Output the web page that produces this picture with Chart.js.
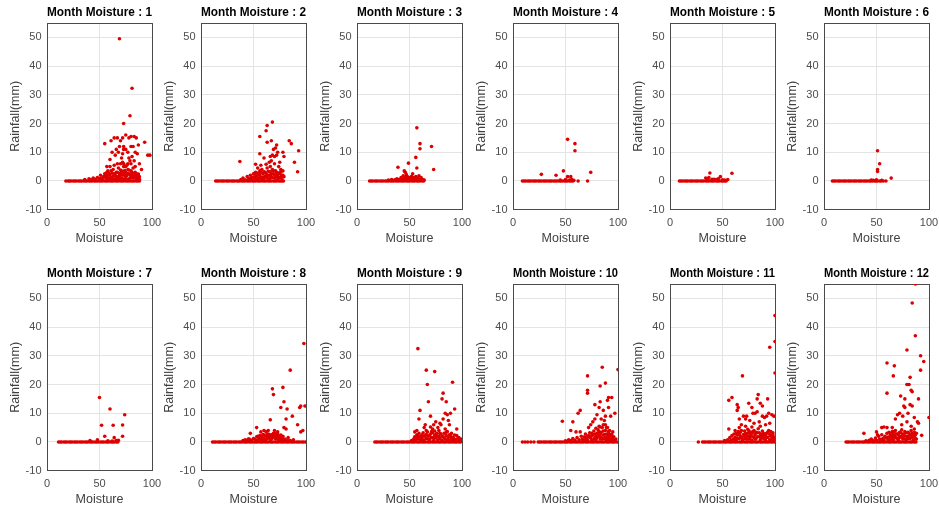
<!DOCTYPE html>
<html>
<head>
<meta charset="utf-8">
<script src="https://cdn.jsdelivr.net/npm/chart.js@4.4.1/dist/chart.umd.min.js"></script>
<style>
  html, body { margin: 0; background: #fff; }
  #wrap { position: relative; width: 939px; height: 508px; overflow: hidden; }
  #wrap canvas { position: absolute; }
</style>
</head>
<body>
<div id="wrap"></div>
<script>
// month numbers, one subplot each
const months = [1, 2, 3, 4, 5, 6, 7, 8, 9, 10, 11, 12];
const xTicks = [0, 50, 100];
const yTicks = [-10, 0, 10, 20, 30, 40, 50];

// moisture of days with no rain (rainfall = 0)
const dry1 = [18,20,21.5,23,25,26.5,28,30,31.5,33,35,36.5,38,40,41.5,43,45,46.5,48,50,51.5,53,55,56.5,58,60,61.5,63,65,66.5,68,70,71.5,73,75,76.5,78,80,81.5,83,85,86.5,88];
const dry2 = [14,15.5,17,19,20.5,22,24,25.5,27,29,30.5,32,34,35.5,37,39,40.5,42,44,45.5,47,49,50.5,52,54,55.5,57,59,60.5,62,64,65.5,67,69,70.5,72,74,75.5,77,78.5];
const dry3 = [12,13.5,15,17,18.5,20,22,23.5,25,27,28.5,30,32,33.5,35,37,38.5,40,42,43.5,45,47,48.5,50,52,53.5,55,57,58.5,60,62,63.5];
const dry4 = [9,10.5,12,14,15.5,17,19,20.5,22,24,25.5,27,29,30.5,32,34,35.5,37,39,40.5,42,44,45.5,47,49,50.5,52,54,55.5,57];
const dry5 = [9,10.5,12,14,15.5,17,19,20.5,22,24,25.5,27,29,30.5,32,34,35.5,37,39,40.5,42,44,45.5,47,49,50.5,52,53.5];
const dry6 = [8,9.5,11,13,14.5,16,18,19.5,21,23,24.5,26,28,29.5,31,33,34.5,36,38,39.5,41,43,44.5,46,48,49.5,51,53,54.5,56.5];
const dry7 = [11,12.5,14,16,17.5,19,21,22.5,24,26,27.5,29,31,32.5,34,36,37.5,39,41,42.5,44,46,47.5,49,51,52.5,54,56,57.5,59,61,62.5,64,66,67.5];
const dry8 = [11,12.5,14,16,17.5,19,21,22.5,24,26,27.5,29,31,32.5,34,36,37.5,39,41,42.5,44,46,47.5,49,51,52.5,54,56,57.5,59,61,62.5,64,66,67.5,69,71,72.5,74,76,77.5,79,81,82.5,84,86,87.5,89,91,92.5,94,96,97.5,99.5];
const dry9 = [17,18.5,20,22,23.5,25,27,28.5,30,32,33.5,35,37,38.5,40,42,43.5,45,47,48.5,50,52,53.5,55,57,58.5,60,62,63.5,65,67,68.5,70,72,73.5,75,77,78.5,80,82,83.5,85,87,88.5,90,92,93.5,95,97,98.5];
const dry10 = [9,11.5,14,17,20,24,25.5,27,29,30.5,32,34,35.5,37,39,40.5,42,44,45.5,47,49,50.5,52,54,55.5,57,59,60.5,62,64,65.5,67,69,70.5,72,74,75.5,77,79,80.5,82,84,85.5,87,89,90.5,92,94,95.5,97,99];
const dry11 = [27,31,32.5,34,36,37.5,39,41,42.5,44,46,47.5,49,51,52.5,54,56,57.5,59,61,62.5,64,66,67.5,69,71,72.5,74,76,77.5,79,81,82.5,84,86,87.5,89,91,92.5,94,96,97.5,99.5];
const dry12 = [21,22.5,24,26,27.5,29,31,32.5,34,36,37.5,39,41,42.5,44,46,47.5,49,51,52.5,54,56,57.5,59,61,62.5,64,66,67.5,69,71,72.5,74,76,77.5,79,81,82.5,84,86,87.5];

// [moisture, rainfall(mm)] of days with rain
const wet1 = [[36,0.5],[40,0.8],[42,0.4],[44,1],[46,0.6],[48,1.2],[50,0.8],[51,2],[52,1],[53,0.5],[54,1.5],[55,2.5],[56,1],[57,3],[58,1.8],[59,0.7],[60,2.2],[61,3.5],[62,1.2],[63,4],[64,2.5],[65,0.8],[66,3],[67,1.5],[68,4.5],[69,2.5],[70,1],[71,3.5],[72,2],[73,5],[74,0.8],[75,3],[76,1.8],[77,4],[78,2.5],[79,1],[80,3.5],[81,2],[82,4.5],[83,1.2],[84,3],[85,0.7],[86,2.2],[87,1],[88,1.5],[62,0.4],[66,0.5],[70,2.8],[74,2],[78,0.6],[82,1],[58,3.5],[60,5],[64,5.5],[67,6],[72,6.5],[76,5.5],[80,6],[84,5],
  [56,2],[58,0.6],[59,2.6],[61,1.2],[62,2.8],[63,1.8],[64,0.6],[65,2],[66,1.4],[67,3],[68,0.8],[69,1.6],[70,3.8],[71,2.2],[72,0.8],[73,2.8],[74,3.6],[75,1.6],[76,0.6],[77,2.6],[78,3.8],[79,2.2],[80,1.2],[81,3],[82,2.2],[83,2.6],[84,1.6],[85,2],[86,1],[87,2.4],[88,0.6],[60,1],[57,1.5],
  [69,49.5],[81,32.3],[79,22.7],[73,20],[80,15.5],[55,13],[61,14],[64,15],[67,15],[70,14],[72,15],[75,16],[78,15],[83,15.5],[85,15],[87,12.5],[93,13.5],[96,9],[98,9],[73,11],[75,11],[77,10],[78,8],[77,6],[75,5],[73,6],[72,9.5],[71,8],[82,12],[84,10],[79,7],[65,9],[68,10],[70,6],[62,10],[69,12],[80,12],[73,12],[81,8.5],[86,9.5],[83,7],[66,11],[60,7.5],[57,5],[88,6],[90,4],[85,2.5]];
const wet2 = [[38,0.5],[40,1],[42,0.4],[44,1.5],[46,0.8],[47,2],[48,1.2],[49,0.5],[50,2.5],[51,1],[52,3],[53,1.8],[54,0.6],[55,2.2],[56,3.5],[57,1.2],[58,4],[59,2.5],[60,0.8],[61,3],[62,1.5],[63,4.5],[64,2],[65,0.7],[66,3.2],[67,1.5],[68,4],[69,2.5],[70,1],[71,3.5],[72,2],[73,0.6],[74,2.8],[75,1.2],[76,3.2],[77,0.8],[78,2],[54,4.5],[57,5.5],[62,5.8],[66,5],[70,6],[52,5.8],
  [50,1.4],[51,2.6],[52,1.6],[53,0.5],[54,2.8],[55,1],[56,2],[57,3],[58,0.8],[59,1.4],[60,3.2],[61,1.6],[62,2.6],[63,1],[64,3.4],[65,2],[66,1],[67,2.6],[68,1.2],[69,3.6],[70,2.2],[71,1.4],[72,3],[73,2],[74,1.2],[75,2.6],[76,1.4],[77,2],[45,0.5],[47,0.8],
  [37,6.8],[56,15.5],[63,19.3],[68,20.5],[62,17.5],[63,13.5],[67,14],[72,12.5],[71,11.5],[69,11],[56,9.5],[60,8],[66,8.5],[68,9],[70,8.5],[72,9],[65,6.5],[74,5],[76,4],[78,10],[79,8.5],[84,14],[86,13],[89,6.5],[93,10.5],[92,3.2],[79,1.5],[78,3.5],[75,6.5],[73,10],[67,7]];
const wet3 = [[30,0.3],[33,0.5],[36,0.4],[38,0.8],[40,0.5],[42,1.2],[43,0.6],[44,1.8],[45,0.8],[46,1.2],[47,0.5],[48,1.5],[49,0.8],[50,1.2],[51,0.5],[52,1.6],[53,0.8],[54,1.2],[55,0.5],[56,1.5],[57,0.7],[58,1],[59,1.8],[60,0.5],[61,1.2],[62,0.6],[63,0.4],[64,0.3],[47,2.2],[53,2.5],
  [57,18.5],[60,13],[60,11.2],[71,12],[73,4],[56,8.2],[49,6.2],[39,4.8],[45,3.5],[46,3],[57,4.5]];
const wet4 = [[52,14.5],[59,13],[59,10.5],[48,3.5],[52,1.5],[55,1.5],[27,2.3],[41,2],[74,3],[71,0],[62,0],[58,0.2],[56,0.5],[54,0.3],[45,0.3],[50,0.5]];
const wet5 = [[38,2.8],[48,1.5],[59,2.7],[34,1],[35,0.8],[36,0.5],[40,0.6],[42,0.6],[44,0.5],[46,0.8],[50,0.4],[52,0.3],[55,0.5],[37,1.2]];
const wet6 = [[51,10.5],[53,6],[51,4],[51,3.3],[64,1],[59,0],[45,0.3],[47,0.2],[55,0.2],[50,0.4]];
const wet7 = [[50,15.5],[60,11.5],[74,9.5],[52,5.8],[63,5.8],[72,5.9],[55,2],[72,2],[64,1.5],[48,0.8],[41,0.5],[66,0.5],[58,0.4],[62,0.3],[68,0.6]];
const wet8 = [[40,0.5],[42,0.8],[44,0.4],[46,1],[48,0.6],[50,1.2],[52,0.8],[53,1.8],[54,0.6],[55,1.4],[56,2.2],[57,1],[58,1.8],[59,2.6],[60,1.2],[61,0.6],[62,2],[63,1.2],[64,2.8],[65,1.6],[66,0.8],[67,2.4],[68,1.4],[69,3],[70,2],[71,1],[72,2.6],[73,1.6],[74,0.8],[75,2],[76,1.2],[77,0.6],[78,1],[79,0.4],[81,0.6],[83,0.4],[85,0.5],
  [58,0.5],[60,2.4],[62,0.8],[63,2.6],[64,1.4],[65,2.6],[66,1.6],[67,1],[68,2.6],[69,1.8],[70,3],[71,2.2],[72,1.4],[73,2.8],[74,2],[75,1],[76,2.4],[77,1.6],[78,2],[80,1],[56,1],[54,2],
  [98,34.3],[85,25],[68,18.5],[69,16.5],[78,19],[79,14],[76,12],[82,11.5],[94,12],[95,12.5],[81,8],[87,9],[79,5],[81,4.5],[92,6],[95,3.5],[97,4],[66,7.7],[57,3.5],[60,4],[47,3],[53,5],[62,3.5],[70,4],[73,3.5],[64,4],[83,1.5],[45,1],[88,0.8],[99,12.5]];
const wet9 = [[52,0.5],[54,1],[55,1.8],[56,0.6],[57,2.5],[58,1.2],[59,3],[60,0.8],[61,2],[62,1.4],[63,3.2],[64,0.7],[65,2.2],[66,1.2],[67,3.5],[68,2],[69,0.8],[70,2.8],[71,1.5],[72,3.2],[73,0.6],[74,2.4],[75,1.4],[76,3],[77,0.8],[78,2],[79,1.2],[80,2.8],[81,0.6],[82,1.8],[83,3],[84,1],[85,2.2],[86,0.7],[87,1.6],[88,2.5],[89,0.8],[90,1.5],[91,0.5],[92,1.2],[93,2.4],[94,0.6],[95,1],[96,0.4],[97,1.5],[98,0.6],[66,4],[72,4.5],[78,4],[84,4.5],[70,5.2],
  [56,1.6],[58,2.2],[60,1.8],[62,0.6],[64,2],[66,2.6],[68,1],[69,2.2],[71,3.6],[73,1.6],[75,2.4],[77,2],[79,3],[81,2],[83,1.4],[85,3.4],[87,0.6],[89,2.4],[91,1.6],[93,0.8],[95,2.2],[97,0.6],[74,3.8],[86,3.6],
  [58,32.5],[66,25],[74,24.5],[67,20],[91,20.8],[68,14],[82,17],[81,15],[85,14],[93,11.5],[84,10],[86,9.5],[82,8],[79,6.5],[70,9],[60,11],[59,8],[64,5],[65,6],[75,7],[77,5],[87,7.5],[88,6],[90,3],[95,4.5],[99,1],[55,3.5],[57,4],[62,2.5],[73,6],[80,6],[89,10]];
const wet10 = [[50,0.4],[53,0.8],[55,0.5],[57,1.2],[59,0.6],[61,1.5],[63,0.8],[65,2],[66,1],[67,0.5],[68,1.8],[69,2.8],[70,1.2],[71,0.6],[72,2.2],[73,3.2],[74,1.4],[75,0.7],[76,2.6],[77,3.8],[78,1.6],[79,0.8],[80,3],[81,4.2],[82,2],[83,1],[84,3.4],[85,5],[86,2.4],[87,1.2],[88,4],[89,2.8],[90,1.4],[91,3.6],[92,0.8],[93,2.2],[94,1.2],[95,0.6],[96,1.8],[97,0.5],[98,1],
  [69,1],[71,2],[73,1.6],[75,2.2],[77,1],[78,2.8],[79,2],[80,1.4],[81,2.4],[82,3.6],[83,2.6],[84,1.6],[85,1],[86,3.8],[87,2.6],[88,1.6],[89,0.6],[90,2.6],[91,1.8],[92,2.8],[93,1],[94,2.6],[95,1.6],[96,0.6],[83,5.2],[88,6],[90,5],[79,4.8],
  [85,26],[71,23],[100,25.2],[71,18],[71,17],[83,19.5],[88,20.5],[91,15.5],[94,15.5],[90,14.5],[83,14],[78,13],[82,12],[86,11],[91,12],[97,10],[64,11],[62,10],[57,7],[47,7.2],[55,4],[60,3.5],[64,3.5],[72,5],[75,3],[78,8],[80,9.5],[84,8],[86,6],[89,5],[92,4],[95,3.5],[74,6],[88,9],[93,9],[82,5.5],[76,7],[87,7.5]];
const wet11 = [[52,0.5],[55,0.8],[57,1.5],[58,0.5],[59,2.2],[60,1],[61,2.8],[62,1.6],[63,0.6],[64,2.4],[65,3.6],[66,1.2],[67,2],[68,4],[69,0.8],[70,2.6],[71,3.8],[72,1.4],[73,2.8],[74,4.4],[75,1],[76,2.2],[77,3.4],[78,0.6],[79,1.8],[80,4],[81,2.6],[82,1.2],[83,3.2],[84,4.6],[85,1.8],[86,0.8],[87,2.8],[88,3.8],[89,1.4],[90,2.4],[91,0.6],[92,3],[93,1.6],[94,4],[95,0.8],[96,2],[97,1],[98,3.2],[99,0.5],[100,1.6],[66,5],[72,5.5],[78,5.2],[86,5.5],
  [62,0.8],[64,1.2],[66,2.6],[67,3.4],[68,1.6],[70,1],[71,2],[72,3],[73,1],[74,2],[75,3.2],[76,1.2],[77,2],[78,3],[79,3.6],[80,1.6],[81,1],[82,3.4],[83,1.8],[85,3.2],[86,2.2],[87,1.2],[88,2],[89,3],[90,1.2],[91,2.4],[92,1.6],[93,3.4],[95,2.6],[96,3.6],[97,2.4],[98,1.6],[63,3],
  [100,44],[100,35],[95,33],[100,24],[69,23],[56,14.5],[59,15.5],[64,13],[64,11],[65,12],[75,13.5],[84,16.5],[83,15],[86,13.5],[93,15],[79,10],[81,10],[83,10.5],[88,9],[90,8.5],[92,9],[97,9.5],[98,2.5],[72,8],[73,9],[76,7.5],[70,9],[68,6],[56,4.5],[62,4],[75,4],[80,6.5],[85,7],[91,6],[95,6.5],[78,12],[66,8],[88,12.5],[94,10],[99,9]];
const wet12 = [[40,0.4],[43,0.6],[45,1],[47,0.5],[49,1.4],[50,0.6],[52,2],[53,1],[54,0.5],[55,2.5],[56,1.2],[57,0.6],[58,2],[59,1.4],[60,3],[61,0.8],[62,1.8],[63,2.8],[64,1.2],[65,3.6],[66,0.8],[67,2.2],[68,4],[69,1.4],[70,2.8],[71,0.6],[72,3.4],[73,1.8],[74,4.2],[75,1],[76,2.6],[77,3.6],[78,0.8],[79,2],[80,3.4],[81,1.2],[82,2.6],[83,4],[84,1.6],[85,0.6],[86,2.4],[87,1.2],[88,3],
  [60,1.6],[62,3.4],[63,0.8],[64,2.4],[65,1.6],[66,2.6],[67,3.6],[68,1.6],[69,2.8],[70,1.2],[71,2.4],[72,1.6],[73,3.2],[74,2],[75,2.8],[76,1.2],[77,2],[78,3.2],[79,1],[80,2],[81,3],[82,1.2],[83,2.2],[84,3],[85,1.8],[86,3.4],[87,2.4],[88,1],
  [87,55],[84,48.4],[87,37],[79,32],[92,30],[95,28],[60,27.5],[67,26.5],[66,23],[60,17],[82,22.5],[79,20],[81,20],[83,18],[84,17.5],[73,16],[77,15],[77,12],[82,13],[84,12.5],[90,15],[92,25],[100,8.5],[93,2.3],[89,7],[90,6.5],[70,9.5],[72,10],[68,8],[75,9],[79,7],[83,5.5],[86,4.5],[65,5],[60,5],[55,5],[57,5.2],[50,3.5],[51,2.5],[38,3],[80,10],[86,8.5],[74,6],[76,12.5]];

const dryDays = [dry1, dry2, dry3, dry4, dry5, dry6, dry7, dry8, dry9, dry10, dry11, dry12];
const wetDays = [wet1, wet2, wet3, wet4, wet5, wet6, wet7, wet8, wet9, wet10, wet11, wet12];

const FONT = '"Liberation Sans", Arial, Helvetica, sans-serif';
const RED = 'rgb(222,0,0)';
const GRID = '#e4e4e4';
const BOX = '#4a4a4a';
const TICK = '#4d4d4d';

// layout of the 2 x 6 grid (pixels)
const plotLefts = [47, 201, 357, 513, 670, 824];
const rowTops = [0, 261];
// PAD_R leaves room for the half-width of the "100" label plus tick padding
const AXIS_W = 47, PLOT_W = 105, PAD_R = 18, CANVAS_H = 247, XAXIS_H = 37.3;

const wrap = document.getElementById('wrap');

months.forEach((m, i) => {
    const row = Math.floor(i / 6), col = i % 6;
    const canvas = document.createElement('canvas');
    canvas.width = AXIS_W + PLOT_W + PAD_R;
    canvas.height = CANVAS_H;
    canvas.style.left = (plotLefts[col] - AXIS_W) + 'px';
    canvas.style.top = rowTops[row] + 'px';
    wrap.appendChild(canvas);

    const pointStyle = {
        backgroundColor: RED,
        borderWidth: 0,
        pointRadius: 1.8,
        xAxisID: 'x',
        yAxisID: 'y',
    };

    new Chart(canvas, {
        type: 'scatter',
        data: {
            datasets: [
                { data: dryDays[i].map(x => ({ x: x, y: 0 })), ...pointStyle },
                { data: wetDays[i].map(([x, y]) => ({ x: x, y: y })), ...pointStyle },
            ]
        },
        options: {
            responsive: false,
            animation: false,
            events: [],
            layout: { padding: { left: 0, right: PAD_R, top: 0, bottom: 0 } },
            plugins: {
                legend: { display: false },
                tooltip: { enabled: false },
                title: {
                    display: true,
                    text: 'Month Moisture : ' + m,
                    fullSize: false,
                    color: '#000',
                    font: { family: FONT, size: 13, weight: 'bold' },
                    padding: { top: 4.5, bottom: 2.9 },
                },
            },
            scales: {
                x: {
                    type: 'linear',
                    position: 'bottom',
                    min: 0,
                    max: 100,
                    afterBuildTicks: s => { s.ticks = xTicks.map(v => ({ value: v })); },
                    afterFit: s => { s.height = XAXIS_H; },
                    grid: { color: GRID, drawTicks: false },
                    border: { color: BOX },
                    ticks: { color: TICK, font: { family: FONT, size: 11 }, padding: 6.5, maxRotation: 0, autoSkip: false },
                    title: { display: true, text: 'Moisture', color: '#404040', font: { family: FONT, size: 12.5 }, padding: { top: 0, bottom: 0.6 } },
                },
                y: {
                    type: 'linear',
                    position: 'left',
                    min: -10,
                    max: 55,
                    afterBuildTicks: s => { s.ticks = yTicks.map(v => ({ value: v })); },
                    afterFit: s => { s.width = AXIS_W; },
                    grid: { color: GRID, drawTicks: false },
                    border: { color: BOX },
                    ticks: { color: TICK, font: { family: FONT, size: 11 }, padding: 5.5 },
                    title: { display: true, text: 'Rainfall(mm)', color: '#404040', font: { family: FONT, size: 12.5 }, padding: { top: 8, bottom: 0 } },
                },
                x2: {
                    type: 'linear',
                    position: 'top',
                    min: 0,
                    max: 100,
                    afterFit: s => { s.height = 0; },
                    grid: { display: false },
                    border: { color: BOX },
                    ticks: { display: false },
                },
                y2: {
                    type: 'linear',
                    position: 'right',
                    min: -10,
                    max: 55,
                    afterFit: s => { s.width = 0; },
                    grid: { display: false },
                    border: { color: BOX },
                    ticks: { display: false },
                },
            }
        }
    });
});
</script>
</body>
</html>
